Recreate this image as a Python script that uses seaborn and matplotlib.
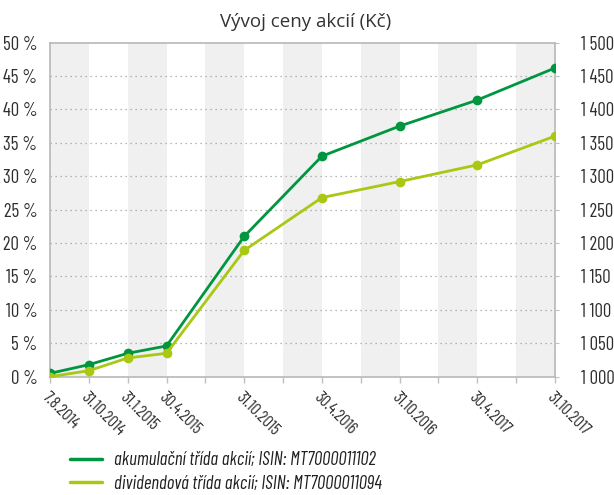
import matplotlib
matplotlib.use("Agg")
import matplotlib.pyplot as plt
from matplotlib.lines import Line2D
import seaborn as sns
import pandas as pd

# ---- data ----
categories = ["7.8.2014", "31.10.2014", "31.1.2015", "30.4.2015", "",
              "31.10.2015", "", "30.4.2016", "", "31.10.2016", "",
              "30.4.2017", "", "31.10.2017"]
dates = ["7.8.2014", "31.10.2014", "31.1.2015", "30.4.2015", "31.10.2015",
         "30.4.2016", "31.10.2016", "30.4.2017", "31.10.2017"]
akumulacni = [0.5, 1.8, 3.5, 4.6, 21.0, 33.0, 37.5, 41.4, 46.2]
dividendova = [0.0, 0.9, 2.8, 3.5, 18.9, 26.8, 29.2, 31.7, 36.0]
series_names = ["akumulační třída akcií; ISIN: MT7000011102",
                "dividendová třída akcií; ISIN: MT7000011094"]
left_ticks = [0, 5, 10, 15, 20, 25, 30, 35, 40, 45, 50]
right_ticks = [1000, 1050, 1100, 1150, 1200, 1250, 1300, 1350, 1400, 1450, 1500]

colors = ["#00963f", "#a8c814"]
cond = ["Barlow Condensed", "Fira Sans Condensed", "DejaVu Sans"]
tcol = "#2e2e2e"

pos = [categories.index(d) for d in dates]
df = pd.concat([
    pd.DataFrame({"x": pos, "value": akumulacni, "series": series_names[0]}),
    pd.DataFrame({"x": pos, "value": dividendova, "series": series_names[1]}),
])

sns.set_style("white")
fig = plt.figure(figsize=(6.14, 4.95), dpi=100)
ax = fig.add_axes([0.0814, 0.239, 0.8225, 0.675])

n = len(categories)
for k in range(0, n - 1, 2):
    ax.axvspan(k, k + 1, color="#f0f0f0", lw=0, zorder=0)

sns.lineplot(data=df, x="x", y="value", hue="series", palette=colors,
             marker="o", markersize=7, markeredgewidth=0, linewidth=2.0,
             ax=ax, legend=False, zorder=3)

ax.set_xlim(0, n - 1)
ax.set_ylim(0, 50)
ax.set_xlabel("")
ax.set_ylabel("")
ax.set_yticks(left_ticks)
ax.set_yticklabels([f"{t}\u00a0%" for t in left_ticks], fontfamily=cond,
                   fontsize=13.5, color=tcol)
for t in left_ticks[1:-1]:
    ax.axhline(t, color="#a0a0a0", lw=0.9, ls=(0, (1, 3)), zorder=1)

ax.set_xticks(range(n))
ax.set_xticklabels(categories, rotation=-45, ha="left", va="top",
                   rotation_mode="anchor", fontfamily=cond, fontsize=12,
                   color=tcol)
ax.tick_params(axis="x", length=4, width=1, color="#c0c0c0", pad=5, bottom=True)
ax.tick_params(axis="y", length=0, pad=9)

for s in ax.spines.values():
    s.set_color("#b8b8b8")
    s.set_linewidth(1.2)

ax2 = ax.twinx()
ax2.set_ylim(1000, 1500)
ax2.set_yticks(right_ticks)
ax2.set_yticklabels([f"{t // 1000}\u00a0{t % 1000:03d}" for t in right_ticks],
                    fontfamily=cond, fontsize=13.5, color=tcol)
ax2.tick_params(axis="y", length=3, color="#c0c0c0", pad=16)
for s in ax2.spines.values():
    s.set_visible(False)
ax2.grid(False)

fig.text(0.497, 0.955, "Vývoj ceny akcií (Kč)", ha="center", va="center",
         fontfamily="Open Sans", fontsize=13.5, color="#333333")

handles = [Line2D([0], [0], color=c, lw=2.5) for c in colors]
fig.legend(handles, series_names, loc="upper left",
           bbox_to_anchor=(0.087, 0.122),
           frameon=False, handlelength=1.7, handletextpad=0.65,
           labelspacing=0.28,
           prop={"family": cond, "style": "italic", "size": 13.5},
           labelcolor="#202020")

fig.savefig("out.png", dpi=100)
